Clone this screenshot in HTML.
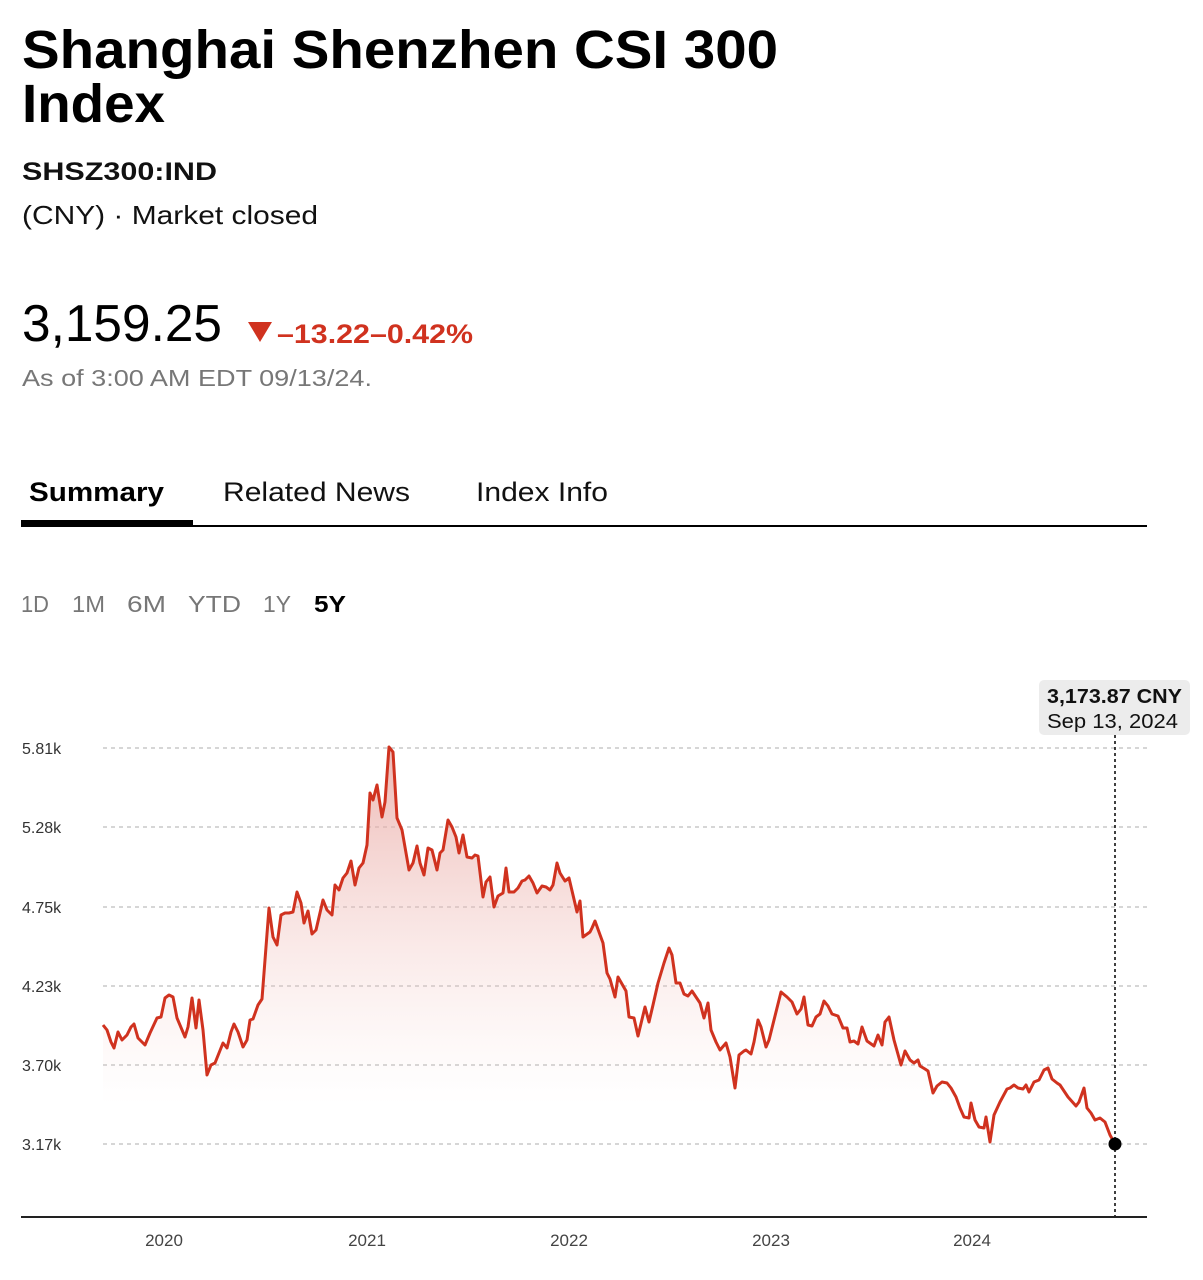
<!DOCTYPE html>
<html><head><meta charset="utf-8"><style>
html,body{margin:0;padding:0;background:#fff;}
svg{display:block;font-family:"Liberation Sans",Arial,sans-serif;}
</style></head><body>
<svg width="1203" height="1280" viewBox="0 0 1203 1280" xmlns="http://www.w3.org/2000/svg">
<defs>
<linearGradient id="g" gradientUnits="userSpaceOnUse" x1="0" y1="745" x2="0" y2="1105">
<stop offset="0" stop-color="#e7a19b" stop-opacity="0.75"/>
<stop offset="1" stop-color="#f6d4d1" stop-opacity="0"/>
</linearGradient>
</defs>
<text x="22" y="68" font-size="54" font-weight="bold" fill="#000" textLength="756" lengthAdjust="spacingAndGlyphs">Shanghai Shenzhen CSI 300</text>
<text x="22" y="122" font-size="54" font-weight="bold" fill="#000" textLength="143" lengthAdjust="spacingAndGlyphs">Index</text>
<text x="22" y="180" font-size="25" font-weight="bold" fill="#111" textLength="195" lengthAdjust="spacingAndGlyphs">SHSZ300:IND</text>
<text x="22" y="224" font-size="26" fill="#111" textLength="296" lengthAdjust="spacingAndGlyphs">(CNY) · Market closed</text>
<text x="22" y="341" font-size="52" fill="#000" textLength="200" lengthAdjust="spacingAndGlyphs">3,159.25</text>
<polygon points="248,322 272,322 260,342" fill="#d0321f"/>
<text x="277" y="343" font-size="27" font-weight="bold" fill="#d0321f" textLength="196" lengthAdjust="spacingAndGlyphs">–13.22–0.42%</text>
<text x="22" y="386" font-size="23" fill="#777" textLength="350" lengthAdjust="spacingAndGlyphs">As of 3:00 AM EDT 09/13/24.</text>
<text x="29" y="501" font-size="27" font-weight="bold" fill="#000" textLength="135" lengthAdjust="spacingAndGlyphs">Summary</text>
<text x="223" y="501" font-size="27" fill="#111" textLength="187" lengthAdjust="spacingAndGlyphs">Related News</text>
<text x="476" y="501" font-size="27" fill="#111" textLength="132" lengthAdjust="spacingAndGlyphs">Index Info</text>
<rect x="21" y="525" width="1126" height="2" fill="#000"/>
<rect x="21" y="520" width="172" height="6" fill="#000"/>
<g font-size="23" fill="#777">
<text x="21" y="612" textLength="28" lengthAdjust="spacingAndGlyphs">1D</text>
<text x="72" y="612" textLength="33" lengthAdjust="spacingAndGlyphs">1M</text>
<text x="127" y="612" textLength="39" lengthAdjust="spacingAndGlyphs">6M</text>
<text x="188" y="612" textLength="53" lengthAdjust="spacingAndGlyphs">YTD</text>
<text x="263" y="612" textLength="28" lengthAdjust="spacingAndGlyphs">1Y</text>
</g>
<text x="314" y="612" font-size="23" font-weight="bold" fill="#000" textLength="32" lengthAdjust="spacingAndGlyphs">5Y</text>
<g stroke="#c8c8c8" stroke-width="1.5" stroke-dasharray="4,4">
<line x1="103" y1="748" x2="1147" y2="748"/>
<line x1="103" y1="827" x2="1147" y2="827"/>
<line x1="103" y1="907" x2="1147" y2="907"/>
<line x1="103" y1="986" x2="1147" y2="986"/>
<line x1="103" y1="1065" x2="1147" y2="1065"/>
<line x1="103" y1="1144" x2="1147" y2="1144"/>
</g>
<g font-size="16" fill="#333">
<text x="22" y="754">5.81k</text>
<text x="22" y="833">5.28k</text>
<text x="22" y="913">4.75k</text>
<text x="22" y="992">4.23k</text>
<text x="22" y="1071">3.70k</text>
<text x="22" y="1150">3.17k</text>
</g>
<polygon fill="url(#g)" points="103,1110 103,1025 107,1030 111,1042 114,1048 118,1032 122,1040 127,1035 131,1027 134,1024 138,1038 145,1045 150,1033 157,1018 161,1017 165,998 169,995 173,997 177,1018 185,1037 188,1027 192,998 196,1028 199,1000 203,1030 207,1075 211,1065 215,1063 223,1043 227,1048 231,1032 234,1024 238,1032 243,1047 247,1040 250,1020 253,1019 258,1005 262,999 269,908 273,937 277,945 281,915 285,913 289,913 293,912 297,892 301,903 304,923 308,911 312,934 316,930 323,900 327,910 332,915 335,885 339,890 343,878 347,873 351,861 355,885 359,868 363,863 367,845 370,793 373,800 377,785 382,817 385,802 389,747 393,752 397,818 402,830 409,870 413,863 417,846 420,863 424,875 428,848 432,850 437,870 440,853 443,850 448,820 452,827 456,837 459,853 463,835 467,857 472,858 475,855 478,856 483,897 486,882 490,877 494,907 498,896 503,893 506,868 509,892 514,892 518,888 522,881 525,880 529,876 533,883 537,893 542,886 546,887 550,890 553,885 557,863 560,873 565,881 569,878 577,912 580,901 583,937 590,932 592,928 595,921 603,943 607,973 610,979 615,997 618,977 626,991 629,1017 634,1018 638,1036 645,1007 649,1022 653,1005 658,983 664,963 669,948 672,955 676,983 680,983 684,994 688,996 692,991 700,1003 704,1018 708,1003 711,1030 716,1042 720,1050 726,1043 730,1057 735,1088 739,1055 744,1051 746,1050 751,1054 754,1042 758,1020 761,1027 766,1047 769,1040 781,992 787,997 792,1002 797,1014 801,1009 804,997 808,1025 812,1026 816,1017 820,1014 824,1001 828,1006 832,1014 838,1016 843,1028 847,1028 850,1042 854,1041 858,1044 862,1027 867,1041 874,1046 878,1035 882,1045 885,1022 889,1017 894,1040 901,1065 905,1051 910,1060 914,1063 918,1060 920,1066 925,1069 928,1071 933,1093 937,1086 942,1082 947,1083 951,1088 956,1097 960,1108 964,1110"/>
<polyline fill="none" stroke="#d0321f" stroke-width="3" stroke-linejoin="round" points="103,1025 107,1030 111,1042 114,1048 118,1032 122,1040 127,1035 131,1027 134,1024 138,1038 145,1045 150,1033 157,1018 161,1017 165,998 169,995 173,997 177,1018 185,1037 188,1027 192,998 196,1028 199,1000 203,1030 207,1075 211,1065 215,1063 223,1043 227,1048 231,1032 234,1024 238,1032 243,1047 247,1040 250,1020 253,1019 258,1005 262,999 269,908 273,937 277,945 281,915 285,913 289,913 293,912 297,892 301,903 304,923 308,911 312,934 316,930 323,900 327,910 332,915 335,885 339,890 343,878 347,873 351,861 355,885 359,868 363,863 367,845 370,793 373,800 377,785 382,817 385,802 389,747 393,752 397,818 402,830 409,870 413,863 417,846 420,863 424,875 428,848 432,850 437,870 440,853 443,850 448,820 452,827 456,837 459,853 463,835 467,857 472,858 475,855 478,856 483,897 486,882 490,877 494,907 498,896 503,893 506,868 509,892 514,892 518,888 522,881 525,880 529,876 533,883 537,893 542,886 546,887 550,890 553,885 557,863 560,873 565,881 569,878 577,912 580,901 583,937 590,932 592,928 595,921 603,943 607,973 610,979 615,997 618,977 626,991 629,1017 634,1018 638,1036 645,1007 649,1022 653,1005 658,983 664,963 669,948 672,955 676,983 680,983 684,994 688,996 692,991 700,1003 704,1018 708,1003 711,1030 716,1042 720,1050 726,1043 730,1057 735,1088 739,1055 744,1051 746,1050 751,1054 754,1042 758,1020 761,1027 766,1047 769,1040 781,992 787,997 792,1002 797,1014 801,1009 804,997 808,1025 812,1026 816,1017 820,1014 824,1001 828,1006 832,1014 838,1016 843,1028 847,1028 850,1042 854,1041 858,1044 862,1027 867,1041 874,1046 878,1035 882,1045 885,1022 889,1017 894,1040 901,1065 905,1051 910,1060 914,1063 918,1060 920,1066 925,1069 928,1071 933,1093 937,1086 942,1082 947,1083 951,1088 956,1097 960,1108 964,1117 969,1118 971,1103 975,1120 979,1127 984,1128 986,1117 990,1142 994,1115 1000,1102 1007,1089 1010,1088 1014,1085 1018,1088 1023,1089 1026,1085 1029,1092 1034,1082 1039,1080 1044,1070 1048,1068 1052,1079 1057,1083 1060,1085 1068,1097 1076,1106 1079,1102 1084,1088 1087,1108 1091,1113 1095,1120 1100,1118 1105,1122 1110,1135 1115,1144"/>
<line x1="1115" y1="735" x2="1115" y2="1217" stroke="#000" stroke-width="1.5" stroke-dasharray="3,3"/>
<circle cx="1115" cy="1144" r="6.5" fill="#000"/>
<rect x="1039" y="680" width="151" height="55" rx="5" fill="#ececec"/>
<text x="1047" y="703" font-size="20" font-weight="bold" fill="#111" textLength="135" lengthAdjust="spacingAndGlyphs">3,173.87 CNY</text>
<text x="1047" y="728" font-size="20" fill="#111" textLength="131" lengthAdjust="spacingAndGlyphs">Sep 13, 2024</text>
<rect x="21" y="1216" width="1126" height="2" fill="#222"/>
<g font-size="17" fill="#444" text-anchor="middle">
<text x="164" y="1246">2020</text>
<text x="367" y="1246">2021</text>
<text x="569" y="1246">2022</text>
<text x="771" y="1246">2023</text>
<text x="972" y="1246">2024</text>
</g>
</svg>
</body></html>
